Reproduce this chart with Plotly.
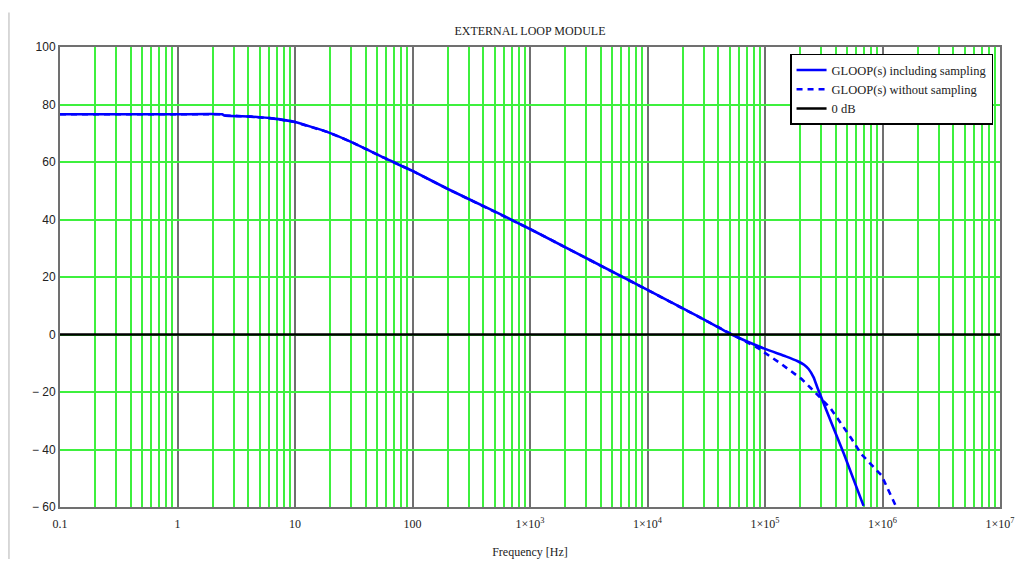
import plotly.graph_objects as go

# ---- data ----
freq_incl = [0.1, 1, 2.4, 2.5, 4.2, 6.6, 10, 19, 30, 57, 100, 200, 500, 1000,
             1e4, 2.85e4, 5.2e4, 1e5, 1.5e5, 1.9e5, 2.15e5, 2.35e5, 2.6e5, 2.8e5, 4.7e5, 6.9e5]
gain_incl = [76.6, 76.6, 76.6, 76.2, 75.8, 75.1, 73.9, 70.4, 67.0, 61.5, 56.9, 50.6, 42.8, 36.7,
             15.5, 5.8, 0.0, -5.0, -7.6, -9.3, -10.5, -12.0, -15.0, -18.6, -41.6, -59.6]

freq_nosamp = [0.1, 1, 2.4, 2.5, 4.2, 6.6, 10, 19, 30, 57, 100, 200, 500, 1000,
               1e4, 2.85e4, 5.2e4, 8.7e4, 1.38e5, 2.05e5, 2.45e5, 3.6e5, 5.4e5, 6.6e5, 9.8e5, 1.3e6]
gain_nosamp = [76.6, 76.6, 76.6, 76.2, 75.8, 75.1, 73.9, 70.4, 67.0, 61.5, 56.9, 50.6, 42.8, 36.7,
               15.5, 5.8, 0.0, -4.7, -10.3, -15.5, -18.6, -25.6, -36.0, -41.6, -49.0, -59.7]

freq_0db = [0.1, 1e7]
gain_0db = [0, 0]

x_major = [0.1, 1, 10, 100, 1e3, 1e4, 1e5, 1e6, 1e7]
x_major_text = ["0.1", "1", "10", "100", "1×10<sup>3</sup>", "1×10<sup>4</sup>",
                "1×10<sup>5</sup>", "1×10<sup>6</sup>", "1×10<sup>7</sup>"]
x_minor = [m * d for d in x_major[:-1] for m in range(2, 10)]
y_ticks = [-60, -40, -20, 0, 20, 40, 60, 80, 100]
y_text = ["− 60", "− 40", "− 20", "0", "20", "40", "60", "80", "100"]

BLUE = "#0000ff"
GREEN = "#3ef03e"
SERIF = "Liberation Serif"
SANS = "Liberation Sans"

fig = go.Figure()
fig.add_trace(go.Scatter(x=freq_incl, y=gain_incl, mode="lines",
                         name="GLOOP(s) including sampling",
                         line=dict(color=BLUE, width=2.6, shape="spline", smoothing=0.4)))
fig.add_trace(go.Scatter(x=freq_nosamp, y=gain_nosamp, mode="lines",
                         name="GLOOP(s) without sampling",
                         line=dict(color=BLUE, width=2.6, dash="6px,5px")))
fig.add_trace(go.Scatter(x=freq_0db, y=gain_0db, mode="lines", name="0 dB",
                         line=dict(color="black", width=2.6)))

fig.update_layout(
    width=1015, height=551,
    margin=dict(l=52, r=23, t=39, b=52, autoexpand=False),
    paper_bgcolor="white", plot_bgcolor="white",
    title=dict(text="EXTERNAL LOOP MODULE", x=0.5, xanchor="center",
               xref="paper", y=1.0, yref="container", yanchor="top", pad=dict(t=19),
               font=dict(family=SERIF, size=12, color="#222")),
    showlegend=True,
    legend=dict(x=0.9926, xanchor="right", y=0.985, yanchor="top",
                bgcolor="white", bordercolor="black", borderwidth=1.5,
                font=dict(family=SERIF, size=12.5, color="#222"),
                tracegroupgap=0, itemwidth=30),
    xaxis=dict(type="log", range=[-1, 7], tickmode="array",
               tickvals=x_major, ticktext=x_major_text,
               showgrid=True, gridcolor="#707070", gridwidth=2,
               minor=dict(tickmode="array", tickvals=x_minor, showgrid=True,
                          gridcolor=GREEN, gridwidth=1.5, ticks=""),
               showline=True, mirror=True, linecolor="#707070", linewidth=2,
               ticks="", zeroline=False, ticklabelstandoff=5, automargin=False,
               tickfont=dict(family=SERIF, size=12, color="#222"),
               title=dict(text="Frequency [Hz]", standoff=18,
                          font=dict(family=SERIF, size=12, color="#222"))),
    yaxis=dict(range=[-60, 100], tickmode="array", tickvals=y_ticks, ticktext=y_text,
               showgrid=True, gridcolor=GREEN, gridwidth=1.5,
               showline=True, mirror=True, linecolor="#707070", linewidth=2,
               ticks="", zeroline=False, automargin=False,
               tickfont=dict(family=SANS, size=12, color="#222")),
    shapes=[dict(type="line", xref="paper", yref="paper",
                 x0=-0.0543, x1=-0.0543, y0=-0.125, y1=1.075,
                 line=dict(color="#cccccc", width=1.5))],
)

fig.write_html("out.html")
